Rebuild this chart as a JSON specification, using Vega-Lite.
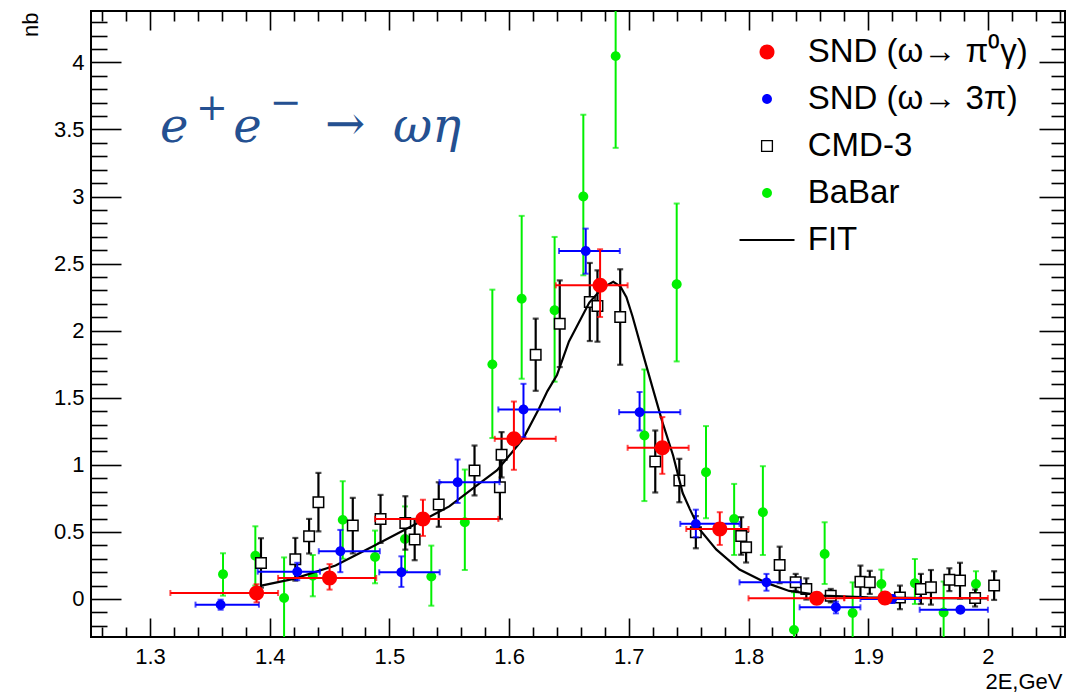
{
  "$schema": "https://vega.github.io/schema/vega-lite/v6.json",
  "width": 974,
  "height": 626,
  "autosize": {"type": "none"},
  "padding": {"left": 91, "top": 11, "right": 6, "bottom": 58},
  "background": "white",
  "config": {
    "font": "Liberation Sans",
    "view": {"stroke": "black", "strokeWidth": 2},
    "axis": {"grid": false, "domain": false, "tickColor": "black", "tickWidth": 1.6, "labelColor": "black", "titleColor": "black", "labelFont": "Liberation Sans", "titleFont": "Liberation Sans", "labelFontSize": 22, "titleFontSize": 22, "titleFontWeight": "normal", "labelOverlap": false, "labelFlush": false}
  },
  "datasets": {
    "red": [
      {"s": "SND (ω→ π⁰γ)", "x": 1.389, "y": 0.045, "xlo": 1.317, "xhi": 1.407, "ylo": -0.025, "yhi": 0.11},
      {"s": "SND (ω→ π⁰γ)", "x": 1.45, "y": 0.157, "xlo": 1.407, "xhi": 1.489, "ylo": 0.07, "yhi": 0.26},
      {"s": "SND (ω→ π⁰γ)", "x": 1.528, "y": 0.597, "xlo": 1.488, "xhi": 1.591, "ylo": 0.47, "yhi": 0.74},
      {"s": "SND (ω→ π⁰γ)", "x": 1.604, "y": 1.194, "xlo": 1.588, "xhi": 1.639, "ylo": 0.963, "yhi": 1.472},
      {"s": "SND (ω→ π⁰γ)", "x": 1.676, "y": 2.338, "xlo": 1.639, "xhi": 1.699, "ylo": 2.102, "yhi": 2.607},
      {"s": "SND (ω→ π⁰γ)", "x": 1.728, "y": 1.127, "xlo": 1.699, "xhi": 1.75, "ylo": 0.933, "yhi": 1.356},
      {"s": "SND (ω→ π⁰γ)", "x": 1.776, "y": 0.522, "xlo": 1.748, "xhi": 1.8, "ylo": 0.403, "yhi": 0.647},
      {"s": "SND (ω→ π⁰γ)", "x": 1.857, "y": 0.005, "xlo": 1.8, "xhi": 1.88, "ylo": -0.025, "yhi": 0.035},
      {"s": "SND (ω→ π⁰γ)", "x": 1.914, "y": 0.007, "xlo": 1.88, "xhi": 2.0, "ylo": -0.02, "yhi": 0.035}
    ],
    "blue": [
      {"s": "SND (ω→ 3π)", "x": 1.359, "y": -0.042, "xlo": 1.338, "xhi": 1.391, "ylo": -0.08, "yhi": -0.005},
      {"s": "SND (ω→ 3π)", "x": 1.423, "y": 0.204, "xlo": 1.39, "xhi": 1.442, "ylo": 0.14, "yhi": 0.27},
      {"s": "SND (ω→ 3π)", "x": 1.459, "y": 0.356, "xlo": 1.441, "xhi": 1.492, "ylo": 0.2, "yhi": 0.515},
      {"s": "SND (ω→ 3π)", "x": 1.51, "y": 0.199, "xlo": 1.4915, "xhi": 1.542, "ylo": 0.09, "yhi": 0.318},
      {"s": "SND (ω→ 3π)", "x": 1.557, "y": 0.871, "xlo": 1.5418, "xhi": 1.592, "ylo": 0.716, "yhi": 1.04},
      {"s": "SND (ω→ 3π)", "x": 1.612, "y": 1.413, "xlo": 1.591, "xhi": 1.6425, "ylo": 1.207, "yhi": 1.604},
      {"s": "SND (ω→ 3π)", "x": 1.664, "y": 2.594, "xlo": 1.6417, "xhi": 1.6925, "ylo": 2.425, "yhi": 2.761},
      {"s": "SND (ω→ 3π)", "x": 1.709, "y": 1.393, "xlo": 1.6919, "xhi": 1.743, "ylo": 1.256, "yhi": 1.543},
      {"s": "SND (ω→ 3π)", "x": 1.756, "y": 0.56, "xlo": 1.743, "xhi": 1.7925, "ylo": 0.46, "yhi": 0.666},
      {"s": "SND (ω→ 3π)", "x": 1.815, "y": 0.124, "xlo": 1.7925, "xhi": 1.8436, "ylo": 0.062, "yhi": 0.187},
      {"s": "SND (ω→ 3π)", "x": 1.873, "y": -0.062, "xlo": 1.8427, "xhi": 1.8935, "ylo": -0.107, "yhi": -0.02},
      {"s": "SND (ω→ 3π)", "x": 1.92, "y": 0.0, "xlo": 1.8935, "xhi": 1.943, "ylo": -0.03, "yhi": 0.03},
      {"s": "SND (ω→ 3π)", "x": 1.977, "y": -0.08, "xlo": 1.943, "xhi": 2.0, "ylo": -0.1, "yhi": -0.06}
    ],
    "green": [
      {"s": "BaBar", "x": 1.361, "y": 0.184, "ylo": 0.025, "yhi": 0.341},
      {"s": "BaBar", "x": 1.388, "y": 0.323, "ylo": 0.1, "yhi": 0.542},
      {"s": "BaBar", "x": 1.412, "y": 0.007, "ylo": -0.3, "yhi": 0.31},
      {"s": "BaBar", "x": 1.436, "y": 0.174, "ylo": 0.02, "yhi": 0.328},
      {"s": "BaBar", "x": 1.461, "y": 0.59, "ylo": 0.3, "yhi": 0.878},
      {"s": "BaBar", "x": 1.488, "y": 0.313, "ylo": 0.117, "yhi": 0.51},
      {"s": "BaBar", "x": 1.513, "y": 0.448, "ylo": 0.21, "yhi": 0.69},
      {"s": "BaBar", "x": 1.535, "y": 0.167, "ylo": -0.05, "yhi": 0.398},
      {"s": "BaBar", "x": 1.563, "y": 0.572, "ylo": 0.216, "yhi": 0.965},
      {"s": "BaBar", "x": 1.586, "y": 1.749, "ylo": 1.2, "yhi": 2.306},
      {"s": "BaBar", "x": 1.6105, "y": 2.239, "ylo": 1.642, "yhi": 2.856},
      {"s": "BaBar", "x": 1.638, "y": 2.152, "ylo": 1.62, "yhi": 2.699},
      {"s": "BaBar", "x": 1.662, "y": 3.0, "ylo": 2.413, "yhi": 3.61},
      {"s": "BaBar", "x": 1.689, "y": 4.047, "ylo": 3.363, "yhi": 4.73},
      {"s": "BaBar", "x": 1.713, "y": 1.219, "ylo": 0.73, "yhi": 1.711},
      {"s": "BaBar", "x": 1.74, "y": 2.346, "ylo": 1.771, "yhi": 2.948},
      {"s": "BaBar", "x": 1.7645, "y": 0.945, "ylo": 0.602, "yhi": 1.289},
      {"s": "BaBar", "x": 1.788, "y": 0.597, "ylo": 0.328, "yhi": 0.858},
      {"s": "BaBar", "x": 1.812, "y": 0.647, "ylo": 0.328, "yhi": 0.99},
      {"s": "BaBar", "x": 1.838, "y": -0.23, "ylo": -0.51, "yhi": 0.05},
      {"s": "BaBar", "x": 1.8636, "y": 0.336, "ylo": 0.112, "yhi": 0.572},
      {"s": "BaBar", "x": 1.887, "y": -0.104, "ylo": -0.33, "yhi": 0.124},
      {"s": "BaBar", "x": 1.911, "y": 0.112, "ylo": 0.015, "yhi": 0.219},
      {"s": "BaBar", "x": 1.939, "y": 0.117, "ylo": -0.037, "yhi": 0.298},
      {"s": "BaBar", "x": 1.963, "y": -0.1, "ylo": -0.33, "yhi": 0.13},
      {"s": "BaBar", "x": 1.99, "y": 0.112, "ylo": 0.02, "yhi": 0.207}
    ],
    "black": [
      {"s": "CMD-3", "x": 1.3927, "y": 0.269, "ylo": 0.085, "yhi": 0.453},
      {"s": "CMD-3", "x": 1.4214, "y": 0.296, "ylo": 0.137, "yhi": 0.455},
      {"s": "CMD-3", "x": 1.4329, "y": 0.468, "ylo": 0.339, "yhi": 0.597},
      {"s": "CMD-3", "x": 1.4407, "y": 0.722, "ylo": 0.504, "yhi": 0.94},
      {"s": "CMD-3", "x": 1.4694, "y": 0.547, "ylo": 0.34, "yhi": 0.754},
      {"s": "CMD-3", "x": 1.4926, "y": 0.597, "ylo": 0.418, "yhi": 0.776},
      {"s": "CMD-3", "x": 1.5133, "y": 0.567, "ylo": 0.368, "yhi": 0.766},
      {"s": "CMD-3", "x": 1.5211, "y": 0.443, "ylo": 0.289, "yhi": 0.597},
      {"s": "CMD-3", "x": 1.5412, "y": 0.704, "ylo": 0.538, "yhi": 0.87},
      {"s": "CMD-3", "x": 1.5711, "y": 0.958, "ylo": 0.772, "yhi": 1.144},
      {"s": "CMD-3", "x": 1.5923, "y": 0.833, "ylo": 0.596, "yhi": 1.07},
      {"s": "CMD-3", "x": 1.5937, "y": 1.075, "ylo": 0.906, "yhi": 1.244},
      {"s": "CMD-3", "x": 1.6222, "y": 1.821, "ylo": 1.552, "yhi": 2.09},
      {"s": "CMD-3", "x": 1.6423, "y": 2.052, "ylo": 1.729, "yhi": 2.375},
      {"s": "CMD-3", "x": 1.6674, "y": 2.214, "ylo": 1.923, "yhi": 2.505},
      {"s": "CMD-3", "x": 1.6738, "y": 2.184, "ylo": 1.918, "yhi": 2.45},
      {"s": "CMD-3", "x": 1.6928, "y": 2.102, "ylo": 1.746, "yhi": 2.458},
      {"s": "CMD-3", "x": 1.7221, "y": 1.025, "ylo": 0.794, "yhi": 1.256},
      {"s": "CMD-3", "x": 1.7422, "y": 0.883, "ylo": 0.721, "yhi": 1.045},
      {"s": "CMD-3", "x": 1.756, "y": 0.498, "ylo": 0.378, "yhi": 0.618},
      {"s": "CMD-3", "x": 1.7939, "y": 0.47, "ylo": 0.33, "yhi": 0.61},
      {"s": "CMD-3", "x": 1.798, "y": 0.386, "ylo": 0.272, "yhi": 0.5},
      {"s": "CMD-3", "x": 1.826, "y": 0.254, "ylo": 0.118, "yhi": 0.39},
      {"s": "CMD-3", "x": 1.8394, "y": 0.124, "ylo": 0.061, "yhi": 0.187},
      {"s": "CMD-3", "x": 1.8483, "y": 0.075, "ylo": -0.004, "yhi": 0.154},
      {"s": "CMD-3", "x": 1.8687, "y": 0.025, "ylo": -0.025, "yhi": 0.075},
      {"s": "CMD-3", "x": 1.8935, "y": 0.129, "ylo": 0.009, "yhi": 0.249},
      {"s": "CMD-3", "x": 1.9013, "y": 0.124, "ylo": 0.038, "yhi": 0.21},
      {"s": "CMD-3", "x": 1.9265, "y": 0.012, "ylo": -0.076, "yhi": 0.1},
      {"s": "CMD-3", "x": 1.944, "y": 0.075, "ylo": -0.037, "yhi": 0.187},
      {"s": "CMD-3", "x": 1.9524, "y": 0.087, "ylo": -0.042, "yhi": 0.216},
      {"s": "CMD-3", "x": 1.9678, "y": 0.144, "ylo": 0.059, "yhi": 0.229},
      {"s": "CMD-3", "x": 1.9767, "y": 0.137, "ylo": 0.004, "yhi": 0.27},
      {"s": "CMD-3", "x": 1.9893, "y": 0.007, "ylo": -0.056, "yhi": 0.07},
      {"s": "CMD-3", "x": 2.0052, "y": 0.1, "ylo": -0.007, "yhi": 0.207}
    ],
    "fit": [
      {"x": 1.393, "y": 0.10}, {"x": 1.42, "y": 0.15}, {"x": 1.455, "y": 0.25}, {"x": 1.488, "y": 0.40},
      {"x": 1.52, "y": 0.55}, {"x": 1.55, "y": 0.69}, {"x": 1.575, "y": 0.86}, {"x": 1.59, "y": 0.96},
      {"x": 1.603, "y": 1.10}, {"x": 1.612, "y": 1.20}, {"x": 1.625, "y": 1.42}, {"x": 1.632, "y": 1.55},
      {"x": 1.64, "y": 1.67}, {"x": 1.65, "y": 1.92}, {"x": 1.667, "y": 2.21}, {"x": 1.678, "y": 2.32},
      {"x": 1.687, "y": 2.365}, {"x": 1.693, "y": 2.33}, {"x": 1.698, "y": 2.25}, {"x": 1.703, "y": 2.11},
      {"x": 1.713, "y": 1.79}, {"x": 1.72, "y": 1.57}, {"x": 1.728, "y": 1.32}, {"x": 1.737, "y": 1.07},
      {"x": 1.745, "y": 0.79}, {"x": 1.751, "y": 0.67}, {"x": 1.759, "y": 0.52}, {"x": 1.773, "y": 0.37},
      {"x": 1.7925, "y": 0.22}, {"x": 1.815, "y": 0.12}, {"x": 1.834, "y": 0.06}, {"x": 1.862, "y": 0.025},
      {"x": 1.9, "y": 0.012}, {"x": 1.95, "y": 0.007}, {"x": 2.0, "y": 0.005}
    ]
  },
  "layer": [
    {
      "data": {"name": "fit"},
      "mark": {"type": "line", "color": "black", "strokeWidth": 2.2, "opacity": 0, "clip": true},
      "encoding": {
        "x": {"field": "x", "type": "quantitative", "scale": {"domain": [1.2507, 2.0644], "nice": false, "zero": false},
          "axis": {"orient": "bottom", "title": "2E,GeV", "titleAnchor": "end", "titleAlign": "right", "titleX": 971, "titleY": 51, "titleBaseline": "alphabetic",
            "values": [1.26,1.28,1.3,1.32,1.34,1.36,1.38,1.4,1.42,1.44,1.46,1.48,1.5,1.52,1.54,1.56,1.58,1.6,1.62,1.64,1.66,1.68,1.7,1.72,1.74,1.76,1.78,1.8,1.82,1.84,1.86,1.88,1.9,1.92,1.94,1.96,1.98,2,2.02,2.04,2.06],
            "tickSize": {"condition": {"test": "abs(datum.value*10 - round(datum.value*10)) < 0.01", "value": -19}, "value": -10},
            "labelPadding": 28,
            "labelExpr": "abs(datum.value*10 - round(datum.value*10)) < 0.01 ? format(datum.value, '.1~f') : ''"}},
        "y": {"field": "y", "type": "quantitative", "scale": {"domain": [-0.2833, 4.3832], "nice": false, "zero": false},
          "axis": {"orient": "left", "title": "nb", "titleAngle": -90, "titleAlign": "right", "titleBaseline": "middle", "titleX": -61, "titleY": 1,
            "values": [-0.2,-0.1,0,0.1,0.2,0.3,0.4,0.5,0.6,0.7,0.8,0.9,1,1.1,1.2,1.3,1.4,1.5,1.6,1.7,1.8,1.9,2,2.1,2.2,2.3,2.4,2.5,2.6,2.7,2.8,2.9,3,3.1,3.2,3.3,3.4,3.5,3.6,3.7,3.8,3.9,4,4.1,4.2,4.3],
            "tickSize": {"condition": {"test": "abs(datum.value*2 - round(datum.value*2)) < 0.01", "value": -30}, "value": -16},
            "labelPadding": 37,
            "labelExpr": "abs(datum.value*2 - round(datum.value*2)) < 0.01 ? format(datum.value, '~g') : ''"}}
      }
    },
    {
      "data": {"name": "green"},
      "mark": {"type": "errorbar", "ticks": true, "thickness": 2, "size": 6, "color": "#00f000", "clip": true},
      "encoding": {
        "x": {"field": "x", "type": "quantitative", "axis": null},
        "y": {"field": "ylo", "type": "quantitative", "axis": null},
        "y2": {"field": "yhi"}
      }
    },
    {
      "data": {"name": "green"},
      "mark": {"type": "point", "filled": true, "opacity": 1, "size": 484, "strokeWidth": 0, "clip": true},
      "encoding": {
        "x": {"field": "x", "type": "quantitative",
          "axis": {"orient": "top", "title": null, "labels": false,
            "values": [1.26,1.28,1.3,1.32,1.34,1.36,1.38,1.4,1.42,1.44,1.46,1.48,1.5,1.52,1.54,1.56,1.58,1.6,1.62,1.64,1.66,1.68,1.7,1.72,1.74,1.76,1.78,1.8,1.82,1.84,1.86,1.88,1.9,1.92,1.94,1.96,1.98,2,2.02,2.04,2.06],
            "tickSize": {"condition": {"test": "abs(datum.value*10 - round(datum.value*10)) < 0.01", "value": -19}, "value": -10}}},
        "y": {"field": "y", "type": "quantitative",
          "axis": {"orient": "right", "title": null, "labels": false,
            "values": [-0.2,-0.1,0,0.1,0.2,0.3,0.4,0.5,0.6,0.7,0.8,0.9,1,1.1,1.2,1.3,1.4,1.5,1.6,1.7,1.8,1.9,2,2.1,2.2,2.3,2.4,2.5,2.6,2.7,2.8,2.9,3,3.1,3.2,3.3,3.4,3.5,3.6,3.7,3.8,3.9,4,4.1,4.2,4.3],
            "tickSize": {"condition": {"test": "abs(datum.value*2 - round(datum.value*2)) < 0.01", "value": -26}, "value": -14}}},
        "color": {"field": "s", "type": "nominal",
          "scale": {"domain": ["SND (ω→ π⁰γ)", "SND (ω→ 3π)", "CMD-3", "BaBar", "FIT"], "range": ["#ff0000", "#0000ff", "#000000", "#00f000", "#000000"]},
          "legend": {"title": null, "orient": "none", "legendX": 659.5, "legendY": 24.5, "padding": 0, "rowPadding": 13, "symbolSize": 484, "symbolStrokeWidth": 0, "labelFontSize": 33, "labelFont": "Liberation Sans", "labelColor": "black", "labelOffset": 24.25, "labelLimit": 400}},
        "shape": {"field": "s", "type": "nominal",
          "scale": {"domain": ["SND (ω→ π⁰γ)", "SND (ω→ 3π)", "CMD-3", "BaBar", "FIT"],
            "range": [
              "M-0.682,0A0.682,0.682,0,1,0,0.682,0A0.682,0.682,0,1,0,-0.682,0Z",
              "M-0.45,0A0.45,0.45,0,1,0,0.45,0A0.45,0.45,0,1,0,-0.45,0Z",
              "M-0.55,-0.55L0.55,-0.55L0.55,0.55L-0.55,0.55Z M-0.43,-0.43L-0.43,0.43L0.43,0.43L0.43,-0.43Z",
              "M-0.45,0A0.45,0.45,0,1,0,0.45,0A0.45,0.45,0,1,0,-0.45,0Z",
              "M-2.5,-0.09L2.5,-0.09L2.5,0.09L-2.5,0.09Z"]},
          "legend": {"title": null, "orient": "none", "legendX": 659.5, "legendY": 24.5, "padding": 0, "rowPadding": 13, "symbolSize": 484, "symbolStrokeWidth": 0, "labelFontSize": 33, "labelFont": "Liberation Sans", "labelColor": "black", "labelOffset": 24.25, "labelLimit": 400}}
      }
    },
    {
      "data": {"name": "black"},
      "mark": {"type": "errorbar", "ticks": true, "thickness": 2.2, "size": 6, "color": "black", "clip": true},
      "encoding": {
        "x": {"field": "x", "type": "quantitative", "axis": null},
        "y": {"field": "ylo", "type": "quantitative", "axis": null},
        "y2": {"field": "yhi"}
      }
    },
    {
      "data": {"name": "black"},
      "mark": {"type": "point", "shape": "square", "filled": false, "fill": "white", "stroke": "black", "strokeWidth": 1.5, "opacity": 1, "size": 110, "clip": true},
      "encoding": {
        "x": {"field": "x", "type": "quantitative", "axis": null},
        "y": {"field": "y", "type": "quantitative", "axis": null}
      }
    },
    {
      "data": {"name": "fit"},
      "mark": {"type": "line", "color": "black", "strokeWidth": 2.2, "clip": true},
      "encoding": {
        "x": {"field": "x", "type": "quantitative", "axis": null},
        "y": {"field": "y", "type": "quantitative", "axis": null}
      }
    },
    {
      "data": {"name": "blue"},
      "mark": {"type": "errorbar", "ticks": true, "thickness": 2, "size": 6, "color": "blue", "clip": true},
      "encoding": {
        "x": {"field": "x", "type": "quantitative", "axis": null},
        "y": {"field": "ylo", "type": "quantitative", "axis": null},
        "y2": {"field": "yhi"}
      }
    },
    {
      "data": {"name": "blue"},
      "mark": {"type": "errorbar", "ticks": true, "thickness": 2, "size": 6, "color": "blue", "clip": true},
      "encoding": {
        "y": {"field": "y", "type": "quantitative", "axis": null},
        "x": {"field": "xlo", "type": "quantitative", "axis": null},
        "x2": {"field": "xhi"}
      }
    },
    {
      "data": {"name": "blue"},
      "mark": {"type": "point", "filled": true, "opacity": 1, "size": 484, "strokeWidth": 0, "clip": true},
      "encoding": {
        "x": {"field": "x", "type": "quantitative", "axis": null},
        "y": {"field": "y", "type": "quantitative", "axis": null},
        "color": {"field": "s", "type": "nominal"},
        "shape": {"field": "s", "type": "nominal"}
      }
    },
    {
      "data": {"name": "red"},
      "mark": {"type": "errorbar", "ticks": true, "thickness": 2, "size": 6, "color": "red", "clip": true},
      "encoding": {
        "x": {"field": "x", "type": "quantitative", "axis": null},
        "y": {"field": "ylo", "type": "quantitative", "axis": null},
        "y2": {"field": "yhi"}
      }
    },
    {
      "data": {"name": "red"},
      "mark": {"type": "errorbar", "ticks": true, "thickness": 2, "size": 6, "color": "red", "clip": true},
      "encoding": {
        "y": {"field": "y", "type": "quantitative", "axis": null},
        "x": {"field": "xlo", "type": "quantitative", "axis": null},
        "x2": {"field": "xhi"}
      }
    },
    {
      "data": {"name": "red"},
      "mark": {"type": "point", "filled": true, "opacity": 1, "size": 484, "strokeWidth": 0, "clip": true},
      "encoding": {
        "x": {"field": "x", "type": "quantitative", "axis": null},
        "y": {"field": "y", "type": "quantitative", "axis": null},
        "color": {"field": "s", "type": "nominal"},
        "shape": {"field": "s", "type": "nominal"}
      }
    },
    {
      "data": {"values": [{}]},
      "mark": {"type": "text", "font": "DejaVu Serif", "fontStyle": "italic", "fontSize": 48, "color": "#245091", "align": "left", "baseline": "alphabetic"},
      "encoding": {
        "x": {"datum": 1.3083, "type": "quantitative", "axis": null},
        "y": {"datum": 3.407, "type": "quantitative", "axis": null},
        "text": {"value": "e"}
      }
    },
    {
      "data": {"values": [{}]},
      "mark": {"type": "text", "font": "DejaVu Serif", "fontSize": 38, "color": "#245091", "align": "left", "baseline": "alphabetic"},
      "encoding": {
        "x": {"datum": 1.3385, "type": "quantitative", "axis": null},
        "y": {"datum": 3.57, "type": "quantitative", "axis": null},
        "text": {"value": "+"}
      }
    },
    {
      "data": {"values": [{}]},
      "mark": {"type": "text", "font": "DejaVu Serif", "fontStyle": "italic", "fontSize": 48, "color": "#245091", "align": "left", "baseline": "alphabetic"},
      "encoding": {
        "x": {"datum": 1.3695, "type": "quantitative", "axis": null},
        "y": {"datum": 3.407, "type": "quantitative", "axis": null},
        "text": {"value": "e"}
      }
    },
    {
      "data": {"values": [{}]},
      "mark": {"type": "text", "font": "DejaVu Serif", "fontSize": 38, "color": "#245091", "align": "left", "baseline": "alphabetic"},
      "encoding": {
        "x": {"datum": 1.4, "type": "quantitative", "axis": null},
        "y": {"datum": 3.61, "type": "quantitative", "axis": null},
        "text": {"value": "−"}
      }
    },
    {
      "data": {"values": [{}]},
      "mark": {"type": "text", "font": "DejaVu Serif", "fontSize": 48, "color": "#245091", "align": "left", "baseline": "alphabetic"},
      "encoding": {
        "x": {"datum": 1.4462, "type": "quantitative", "axis": null},
        "y": {"datum": 3.42, "type": "quantitative", "axis": null},
        "text": {"value": "→"}
      }
    },
    {
      "data": {"values": [{}]},
      "mark": {"type": "text", "font": "DejaVu Serif", "fontStyle": "italic", "fontSize": 48, "color": "#245091", "align": "left", "baseline": "alphabetic"},
      "encoding": {
        "x": {"datum": 1.503, "type": "quantitative", "axis": null},
        "y": {"datum": 3.407, "type": "quantitative", "axis": null},
        "text": {"value": "ωη"}
      }
    }
  ],
  "resolve": {"axis": {"x": "independent", "y": "independent"}}
}
